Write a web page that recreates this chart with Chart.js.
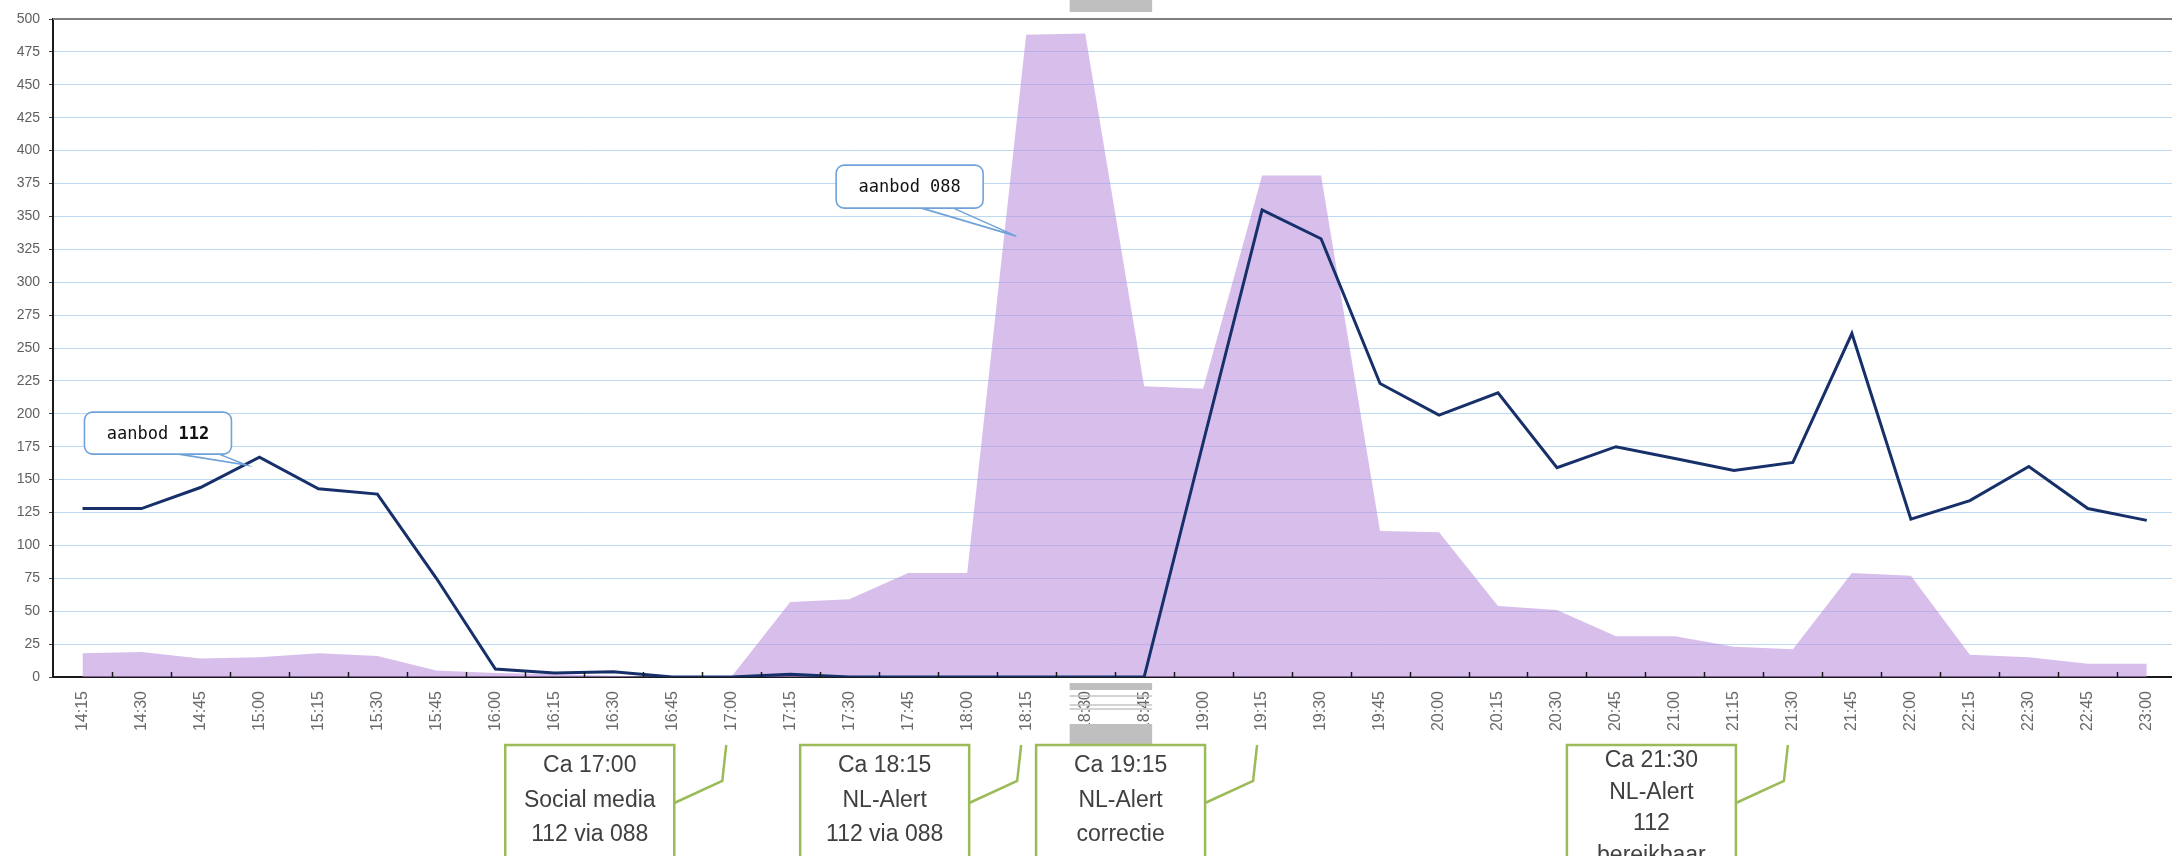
<!DOCTYPE html>
<html><head><meta charset="utf-8">
<script src="https://cdn.jsdelivr.net/npm/chart.js@4.4.1/dist/chart.umd.min.js"></script>
<style>
html,body{margin:0;padding:0;background:#fff;overflow:hidden;}
#wrap{position:relative;width:2180px;height:856px;}
</style></head><body>
<div id="wrap"><canvas id="c" width="2180" height="856"></canvas></div>
<script>
const timeLabels = ['14:15','14:30','14:45','15:00','15:15','15:30','15:45','16:00','16:15','16:30','16:45',
  '17:00','17:15','17:30','17:45','18:00','18:15','18:30','18:45','19:00','19:15','19:30','19:45',
  '20:00','20:15','20:30','20:45','21:00','21:15','21:30','21:45','22:00','22:15','22:30','22:45','23:00'];
const aanbod112 = [128,128,144,167,143,139,75,6,3,4,0,0,2,0,0,0,0,0,0,178,355,333,223,199,216,159,175,166,157,163,261,120,134,160,128,119];
const aanbod088 = [18,19,14,15,18,16,5,3,2,1,0,0,57,59,79,79,488,489,221,219,381,381,111,110,54,51,31,31,23,21,79,77,17,15,10,10];
const yMin = 0, yMax = 500, yStep = 25;

const calloutTexts = [
  {plain:'aanbod ', bold:'112', tipIdx:2.78, tipVal:161, box:[-162,-53,147,42], base:[-74,-30]},
  {plain:'aanbod 088', bold:'', tipIdx:15.83, tipVal:335, box:[-180,-71,147,43], base:[-98,-65]}
];
const noteLabels = ['17:00','18:15','19:15','21:30'];
const noteLines = [
  ['Ca 17:00','Social media','112 via 088'],
  ['Ca 18:15','NL-Alert','112 via 088'],
  ['Ca 19:15','NL-Alert','correctie'],
  ['Ca 21:30','NL-Alert','112','bereikbaar']
];

const decor = {
  id:'decor',
  afterDraw(chart){
    const ctx = chart.ctx, a = chart.chartArea, xs = chart.scales.x, ys = chart.scales.y;
    ctx.save();
    // top border of plot area
    ctx.strokeStyle = '#7f7f7f'; ctx.lineWidth = 2;
    ctx.beginPath(); ctx.moveTo(a.left, a.top); ctx.lineTo(a.right+5, a.top); ctx.stroke();
    // inside tick marks between categories
    ctx.strokeStyle = '#1a1a1a'; ctx.lineWidth = 1.5;
    for (let i = 0; i < timeLabels.length - 1; i++) {
      const x = Math.round((xs.getPixelForValue(i) + xs.getPixelForValue(i+1)) / 2) + 0.5;
      ctx.beginPath(); ctx.moveTo(x, a.bottom); ctx.lineTo(x, a.bottom - 5); ctx.stroke();
    }
    // gray artefact boxes
    const gx0 = (xs.getPixelForValue(17) + xs.getPixelForValue(16)) / 2 + 14;
    const gx1 = xs.getPixelForValue(18) + 8;
    ctx.fillStyle = '#bfbfbf';
    ctx.fillRect(gx0, 0, gx1 - gx0, 12);
    ctx.fillRect(gx0, 683, gx1 - gx0, 7);
    ctx.fillRect(gx0, 724, gx1 - gx0, 20);
    ctx.strokeStyle = '#c4c4c4'; ctx.lineWidth = 1.5;
    [696, 705, 709].forEach(y => { ctx.beginPath(); ctx.moveTo(gx0, y); ctx.lineTo(gx1, y); ctx.stroke(); });

    // blue callouts
    calloutTexts.forEach(c => {
      const tx = xs.getPixelForValue(c.tipIdx), ty = ys.getPixelForValue(c.tipVal);
      const bx = tx + c.box[0], by = ty + c.box[1], bw = c.box[2], bh = c.box[3];
      ctx.strokeStyle = '#6fa3d8'; ctx.lineWidth = 1.6;
      ctx.beginPath(); ctx.moveTo(tx + c.base[0], by + bh - 1); ctx.lineTo(tx, ty); ctx.lineTo(tx + c.base[1], by + bh - 1); ctx.stroke();
      ctx.fillStyle = '#fff';
      ctx.beginPath(); ctx.roundRect(bx, by, bw, bh, 8); ctx.fill(); ctx.stroke();
      ctx.fillStyle = '#111'; ctx.textBaseline = 'middle'; ctx.textAlign = 'left';
      ctx.font = '17px "DejaVu Sans Mono"';
      const w1 = ctx.measureText(c.plain).width;
      ctx.font = 'bold 17px "DejaVu Sans Mono"';
      const w2 = ctx.measureText(c.bold).width;
      let x0 = bx + (bw - w1 - w2) / 2;
      ctx.font = '17px "DejaVu Sans Mono"';
      ctx.fillText(c.plain, x0, by + bh / 2 + 1);
      ctx.font = 'bold 17px "DejaVu Sans Mono"';
      ctx.fillText(c.bold, x0 + w1, by + bh / 2 + 1);
    });

    // green note boxes
    noteLabels.forEach((lab, k) => {
      const cx = xs.getPixelForValue(timeLabels.indexOf(lab));
      const right = cx - 57, left = right - 169, top = 745;
      ctx.strokeStyle = '#9bbb59'; ctx.lineWidth = 2.5;
      ctx.fillStyle = '#fff';
      ctx.beginPath(); ctx.rect(left, top, right - left, 140); ctx.fill(); ctx.stroke();
      ctx.beginPath(); ctx.moveTo(right, 803); ctx.lineTo(cx - 9, 781); ctx.lineTo(cx - 5, top); ctx.stroke();
      const lines = noteLines[k];
      const lh = lines.length > 3 ? 31.5 : 34.5;
      const y0 = lines.length > 3 ? 761 : 766;
      ctx.fillStyle = '#404040'; ctx.textAlign = 'center'; ctx.textBaseline = 'middle';
      ctx.font = '23px "Liberation Sans", Arial, sans-serif';
      lines.forEach((t, i) => ctx.fillText(t, (left + right) / 2, y0 + i * lh));
    });
    ctx.restore();
  }
};

new Chart(document.getElementById('c'), {
  type:'line',
  data:{labels:timeLabels, datasets:[
    {label:'aanbod 112', data:aanbod112, borderColor:'#17306a', borderWidth:3, pointRadius:0, tension:0, fill:false, order:0},
    {label:'aanbod 088', data:aanbod088, borderWidth:0, borderColor:'rgba(0,0,0,0)', backgroundColor:'rgba(188,147,222,0.6)', fill:'origin', pointRadius:0, tension:0, order:1}
  ]},
  options:{
    responsive:false, animation:false, devicePixelRatio:1,
    layout:{padding:{left:0,right:1,top:19,bottom:0}},
    plugins:{legend:{display:false}, tooltip:{enabled:false}},
    scales:{
      x:{offset:true,
         grid:{display:false, drawTicks:false},
         border:{display:true, color:'#1a1a1a', width:2},
         ticks:{minRotation:90, maxRotation:90, autoSkip:false, color:'#6a6a6a', font:{family:'Liberation Sans', size:16}, padding:14},
         afterFit(s){ s.height = 856 - 677; }},
      y:{min:yMin, max:yMax,
         ticks:{stepSize:yStep, color:'#606060', font:{family:'Liberation Sans', size:14}, padding:9},
         grid:{color:'#bcd9f1', lineWidth:1, tickLength:4, tickColor:'#444'},
         border:{display:true, color:'#1a1a1a', width:2},
         afterFit(s){ s.width = 53; }}
    }
  },
  plugins:[decor]
});
</script></body></html>
